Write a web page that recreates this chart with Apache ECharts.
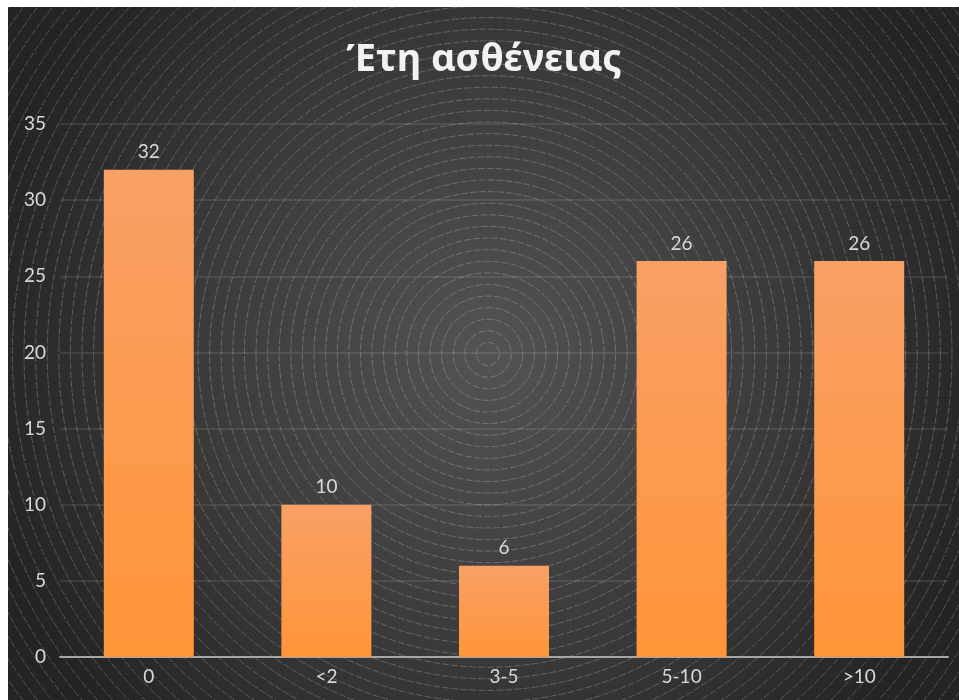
<!DOCTYPE html>
<html>
<head>
<meta charset="utf-8">
<script src="https://cdn.jsdelivr.net/npm/echarts@6/dist/echarts.min.js"></script>
<style>
  html, body { margin: 0; padding: 0; background: #ffffff; }
  #chart { width: 959px; height: 700px; }
</style>
</head>
<body>
<div id="chart"></div>
<script>
// Years of illness — number of patients per duration group
const categories = ['0', '<2', '3-5', '5-10', '>10'];
const patients = [32, 10, 6, 26, 26];
const yTicks = { min: 0, max: 35, interval: 5 };

const chart = echarts.init(document.getElementById('chart'));

// Panel area (white margin on the top and left edges)
const panel = { x: 8, y: 7, w: 951, h: 693 };
const ringCenter = { x: 488, y: 354 };

// Concentric ring texture over the dark radial panel
const decor = [];
decor.push({
  type: 'rect', z: -100, silent: true,
  shape: { x: panel.x, y: panel.y, width: panel.w, height: panel.h },
  style: {
    fill: {
      type: 'radial', x: (ringCenter.x - panel.x) / panel.w, y: (ringCenter.y - panel.y) / panel.h, r: 0.75,
      colorStops: [
        { offset: 0, color: '#535353' },
        { offset: 0.55, color: '#3b3b3b' },
        { offset: 1, color: '#242424' }
      ]
    }
  }
});
for (let r = 11.6; r < 640; r += 11.6) {
  decor.push({
    type: 'circle', z: -99, silent: true,
    shape: { cx: ringCenter.x, cy: ringCenter.y, r: r },
    style: { fill: null, stroke: 'rgba(255,255,255,0.28)', lineWidth: 0.8, lineDash: [7, 2] }
  });
}
decor.push({ type: 'rect', z: -98, silent: true, shape: { x: 0, y: 0, width: panel.x, height: 700 }, style: { fill: '#ffffff' } });
decor.push({ type: 'rect', z: -98, silent: true, shape: { x: 0, y: 0, width: 959, height: panel.y }, style: { fill: '#ffffff' } });

const labelColor = '#d9d9d9';

chart.setOption({
  backgroundColor: '#ffffff',
  animation: false,
  graphic: { elements: decor },
  title: {
    text: 'Έτη ασθένειας',
    left: 479,
    top: 36,
    textAlign: 'center',
    textStyle: {
      color: '#f2f2f2',
      fontFamily: 'Noto Sans',
      fontWeight: 'bold',
      fontSize: 38
    }
  },
  grid: { left: 60, right: 11, top: 124, bottom: 43, containLabel: false },
  xAxis: {
    type: 'category',
    data: categories,
    axisLine: { lineStyle: { color: '#a6a6a6', width: 2 } },
    axisTick: { show: false },
    axisLabel: { color: labelColor, fontFamily: 'Lato', fontSize: 19, margin: 10 },
    splitLine: { show: false }
  },
  yAxis: {
    type: 'value',
    min: yTicks.min, max: yTicks.max, interval: yTicks.interval,
    axisLine: { show: false },
    axisTick: { show: false },
    axisLabel: { color: labelColor, fontFamily: 'Lato', fontSize: 19, margin: 14 },
    splitLine: { lineStyle: { color: 'rgba(255,255,255,0.13)', width: 1.5 } }
  },
  series: [{
    type: 'bar',
    data: patients,
    barWidth: 90,
    itemStyle: {
      color: {
        type: 'linear', x: 0, y: 0, x2: 0, y2: 1,
        colorStops: [
          { offset: 0, color: '#f9a066' },
          { offset: 1, color: '#ff9538' }
        ]
      }
    },
    label: {
      show: true,
      position: 'top',
      distance: 8,
      color: labelColor,
      fontFamily: 'Lato',
      fontSize: 19
    }
  }]
});
</script>
</body>
</html>
